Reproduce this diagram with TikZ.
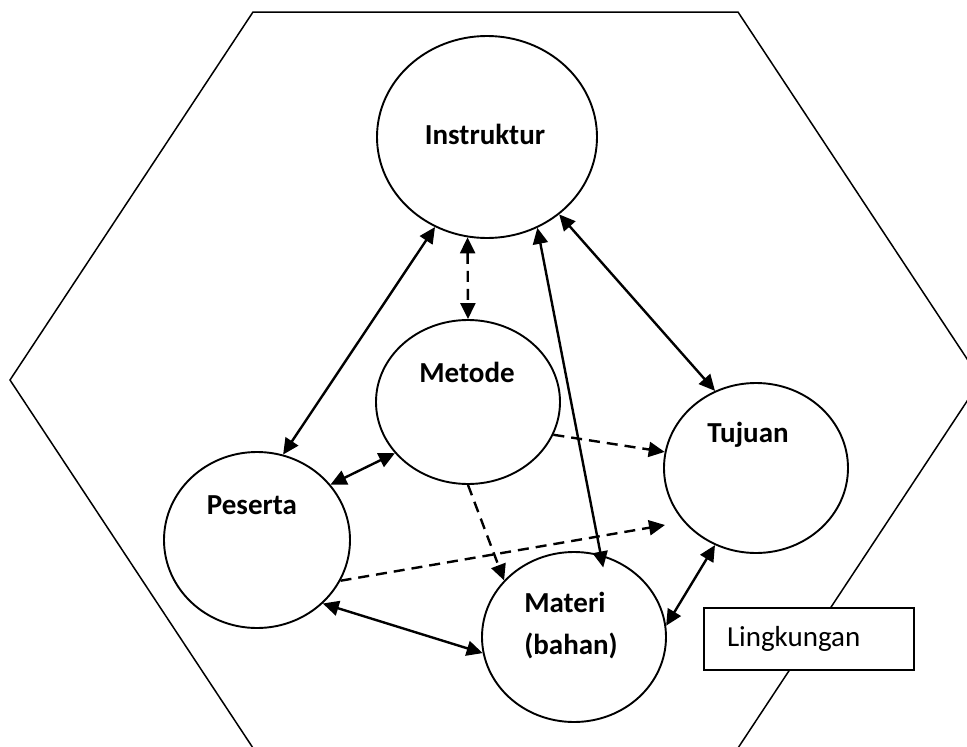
\documentclass[tikz,border=0pt]{standalone}
\usepackage{fontspec}
\setmainfont{Carlito}
\usetikzlibrary{arrows.meta,shapes.geometric}
\begin{document}
\begin{tikzpicture}[x=1pt,y=-1pt,
  >={Triangle[length=16pt,width=15pt]},
  elem/.style={ellipse,draw,line width=1.9pt,inner sep=0pt},
  lbl/.style={font=\bfseries\fontsize{29}{42}\selectfont,inner sep=0pt},
  link/.style={line width=2.4pt,<->},
  flow/.style={line width=2.4pt,dash pattern=on 11pt off 7pt},
  hexline/.style={line width=1.5pt},
  envbox/.style={draw,fill=white,line width=1.9pt,minimum height=62pt,
    text width=164pt,inner xsep=23pt,align=left,
    font=\fontsize{29}{35}\selectfont}]
\useasboundingbox (0,0) rectangle (967,747);

% environment hexagon
\begin{scope}
  \clip (0,0) rectangle (967,747);
  \draw[hexline] (253,12) -- (738,12) -- (981,380) -- (738,748)
    -- (253,748) -- (10,380) -- cycle;
\end{scope}

% the five components
\node[elem,minimum width=220pt,minimum height=202pt] (inst) at (487,137) {};
\node[elem,minimum width=184pt,minimum height=164pt] (met) at (468,402) {};
\node[elem,minimum width=186pt,minimum height=176pt] (pes) at (257,540) {};
\node[elem,minimum width=184pt,minimum height=170pt] (tuj) at (756,468) {};
\node[elem,minimum width=184pt,minimum height=170pt] (mat) at (574,637) {};

\node[lbl] (insttxt) at (485,134) {Instruktur};
\node[lbl] (mettxt) at (467,372) {Metode};
\node[lbl] (pestxt) at (252,505) {Peserta};
\node[lbl] (tujtxt) at (748,435) {Tujuan};
\node[lbl,align=left] (mattxt) at (571,626) {Materi\\(bahan)};

\coordinate (tujin) at (665,525);

% relations
\draw[link] (inst.-120) -- (pes.73);
\draw[flow,<->] (inst.-101) -- (met.north);
\draw[link,shorten >=-13pt] (inst.-61) -- (mat.72);
\draw[link] (inst.-47) -- (tuj.118);
\draw[link] (met.-145) -- (pes.37);
\draw[flow,->] (met.-21) -- (tuj.170);
\draw[flow,->] (met.-90) -- (mat.141);
\draw[flow,->] (pes.-26) -- (tujin);
\draw[link] (pes.-44) -- (mat.190);
\draw[link] (mat.7) -- (tuj.-118);

% label box
\node[envbox] (env) at (809,639) {Lingkungan};
\end{tikzpicture}
\end{document}
